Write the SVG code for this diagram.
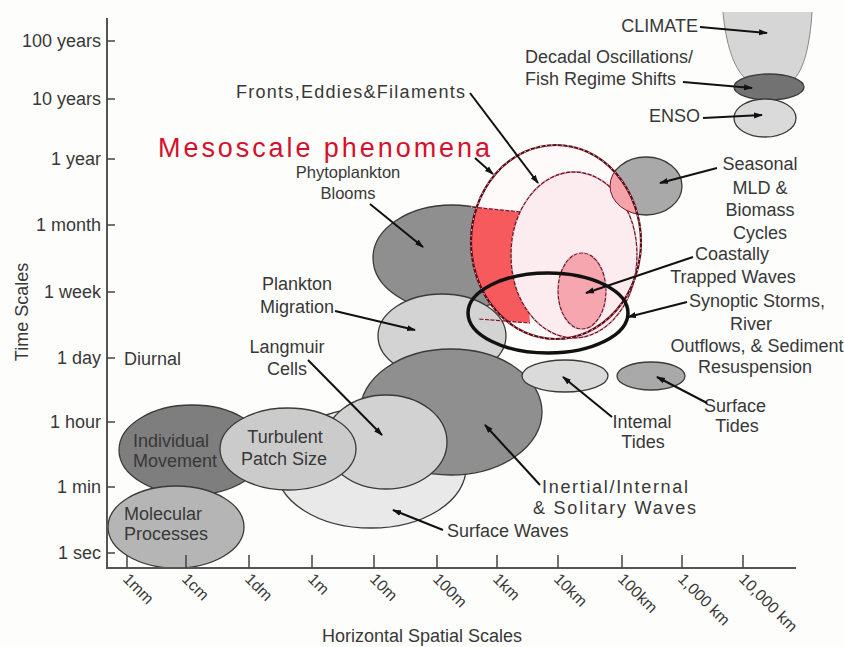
<svg xmlns="http://www.w3.org/2000/svg" width="844" height="647" viewBox="0 0 844 647">
<style>
text{font-family:"Liberation Sans",Arial,sans-serif;font-size:18px;fill:#383838}
.c{text-anchor:middle}
.r{text-anchor:end}
.el{stroke:#3a3a3a;stroke-width:1.3}
.dk{fill:#7e7e7e}
.md{fill:#8f8f8f}
.mg{fill:#a9a9a9}
.lt{fill:#cbcbcb}
.vl{fill:#dadada}
.xl{fill:#e9e9e9}
.ld{stroke:#111;stroke-width:2;fill:none;marker-end:url(#ah)}
.ax{stroke:#555;stroke-width:2;fill:none}
.tk{stroke:#444;stroke-width:1.5}
.dash{fill:none;stroke:#fff;stroke-width:1;stroke-dasharray:1.5 4}
.xt{font-size:16px}
.sm{font-size:16.5px}
</style>
<defs>
<marker id="ah" markerWidth="9" markerHeight="7" refX="8" refY="3.5" orient="auto" markerUnits="userSpaceOnUse">
<path d="M0,0.5 L9,3.5 L0,6.5 z" fill="#111"/>
</marker>
<clipPath id="outerClip"><ellipse cx="556" cy="242" rx="85" ry="97"/></clipPath>
</defs>
<rect width="844" height="647" fill="#fdfdfb"/>

<g id="climate">
<path d="M723,12 C726,45 734,68 745,78 L795,78 C804,68 810,45 812,12 Z" fill="#d6d6d6" stroke="none"/>
<path d="M723,12 C726,45 734,68 745,78 M795,78 C804,68 810,45 812,12" fill="none" stroke="#888" stroke-width="1"/>
<text x="698" y="32" class="r">CLIMATE</text>
</g>
<g id="decadal">
<ellipse class="el" cx="769" cy="87" rx="35" ry="13" fill="#727272"/>
<text x="525" y="63">Decadal Oscillations/</text>
<text x="525" y="85">Fish Regime Shifts</text>
</g>
<g id="enso">
<ellipse class="el vl" cx="765" cy="118" rx="31" ry="19"/>
<text x="700" y="122" class="r">ENSO</text>
</g>
<g id="seasonal">
<ellipse class="el mg" cx="646" cy="186" rx="36" ry="29"/>
<text x="760" y="170" class="c">Seasonal</text>
<text x="760" y="194" class="c">MLD &amp;</text>
<text x="760" y="216" class="c">Biomass</text>
<text x="760" y="239" class="c">Cycles</text>
</g>
<g id="phytoplankton">
<ellipse class="el md" cx="452" cy="258" rx="79" ry="53"/>
<text x="348" y="178" class="c sm">Phytoplankton</text>
<text x="348" y="199" class="c sm">Blooms</text>
</g>
<g id="plankton-migration">
<ellipse class="el" cx="442" cy="336" rx="64" ry="42" fill="#d3d3d3"/>
<text x="297" y="290" class="c">Plankton</text>
<text x="297" y="313" class="c">Migration</text>
</g>
<g id="individual">
<ellipse class="el dk" cx="192" cy="450" rx="73" ry="45"/>
</g>
<g id="surface-waves">
<ellipse class="el xl" cx="371" cy="468" rx="95" ry="60"/>
<text x="447" y="537">Surface Waves</text>
</g>
<g id="inertial">
<ellipse class="el md" cx="451" cy="412" rx="91" ry="63"/>
<text x="542" y="493" textLength="146">Inertial/Internal</text>
<text x="533" y="514" textLength="163">&amp; Solitary Waves</text>
</g>
<g id="langmuir">
<ellipse class="el" cx="386" cy="442" rx="61" ry="47" fill="#d2d2d2"/>
<text x="287" y="353" class="c">Langmuir</text>
<text x="287" y="375" class="c">Cells</text>
</g>
<g id="turbulent">
<ellipse class="el lt" cx="288" cy="449" rx="68" ry="41"/>
<text x="285" y="443" class="c">Turbulent</text>
<text x="284" y="465" class="c">Patch Size</text>
</g>
<g id="individual-label">
<text x="133" y="447">Individual</text>
<text x="133" y="467">Movement</text>
</g>
<g id="molecular">
<ellipse class="el" cx="176" cy="527" rx="68" ry="41" fill="#b5b5b5"/>
<text x="124" y="520">Molecular</text>
<text x="124" y="540">Processes</text>
</g>
<g id="internal-tides">
<ellipse class="el vl" cx="565" cy="376" rx="43" ry="16"/>
<text x="642" y="428" class="c">Intemal</text>
<text x="643" y="448" class="c">Tides</text>
</g>
<g id="surface-tides">
<ellipse class="el mg" cx="651" cy="376" rx="34" ry="14"/>
<text x="735" y="412" class="c">Surface</text>
<text x="737" y="432" class="c">Tides</text>
</g>

<g id="mesoscale">
<ellipse cx="556" cy="242" rx="85" ry="97" fill="#fffafa"/>
<polygon points="460,205 522,212 530,323 460,319" fill="#f65a5c" clip-path="url(#outerClip)"/>
<path d="M471,207 L522,212 M478,319 L530,323" stroke="#7a1020" stroke-width="1.2" fill="none"/>
<path class="dash" d="M471,207 L522,212 M478,319 L530,323"/>
<ellipse cx="574" cy="255" rx="63" ry="83" fill="#fdecef" stroke="#7a1020" stroke-width="1.3"/>
<ellipse class="dash" cx="574" cy="255" rx="63" ry="83"/>
<ellipse cx="646" cy="186" rx="36" ry="29" fill="#f5a3ab" stroke="#7a1020" stroke-width="1" clip-path="url(#outerClip)"/>
<ellipse cx="582" cy="291" rx="24" ry="38" fill="#f6a6ae" stroke="#7a1020" stroke-width="1.2"/>
<ellipse class="dash" cx="582" cy="291" rx="24" ry="38"/>
<ellipse cx="556" cy="242" rx="85" ry="97" fill="none" stroke="#5e0a16" stroke-width="2.2"/>
<ellipse class="dash" cx="556" cy="242" rx="85" ry="97"/>
<text x="158" y="157" textLength="332" style="font-size:27px;fill:#d4102c">Mesoscale phenomena</text>
<text x="236" y="98" textLength="229">Fronts,Eddies&amp;Filaments</text>
<text x="695" y="260">Coastally</text>
<text x="733" y="283" class="c">Trapped Waves</text>
</g>
<g id="synoptic">
<ellipse cx="548" cy="313" rx="80" ry="40" fill="none" stroke="#111" stroke-width="3.5"/>
<text x="757" y="307" class="c">Synoptic Storms,</text>
<text x="751" y="330" class="c">River</text>
<text x="757" y="352" class="c">Outflows, &amp; Sediment</text>
<text x="755" y="373" class="c">Resuspension</text>
</g>

<g id="axes">
<path class="ax" d="M107,18 V568 H796"/>
<g class="tk">
<path d="M107,41 H115 M107,99 H115 M107,159 H115 M107,225 H115 M107,292 H115 M107,358 H115 M107,422 H115 M107,487 H115 M107,553 H115"/>
<path d="M127,568 V555 M186,568 V555 M249,568 V555 M312,568 V555 M374,568 V555 M437,568 V555 M497,568 V555 M558,568 V555 M622,568 V555 M682,568 V555 M743,568 V555"/>
</g>
<text x="101" y="47" class="r">100 years</text>
<text x="101" y="105" class="r">10 years</text>
<text x="101" y="165" class="r">1 year</text>
<text x="101" y="231" class="r">1 month</text>
<text x="101" y="298" class="r">1 week</text>
<text x="101" y="364" class="r">1 day</text>
<text x="124" y="365">Diurnal</text>
<text x="101" y="428" class="r">1 hour</text>
<text x="101" y="493" class="r">1 min</text>
<text x="101" y="559" class="r">1 sec</text>
<text transform="translate(28,312) rotate(-90)" class="c">Time Scales</text>
<g class="xt">
<text class="xt" transform="translate(122,580) rotate(45)">1mm</text>
<text class="xt" transform="translate(181,580) rotate(45)">1cm</text>
<text class="xt" transform="translate(244,580) rotate(45)">1dm</text>
<text class="xt" transform="translate(307,580) rotate(45)">1m</text>
<text class="xt" transform="translate(369,580) rotate(45)">10m</text>
<text class="xt" transform="translate(432,580) rotate(45)">100m</text>
<text class="xt" transform="translate(492,580) rotate(45)">1km</text>
<text class="xt" transform="translate(553,580) rotate(45)">10km</text>
<text class="xt" transform="translate(617,580) rotate(45)">100km</text>
<text class="xt" transform="translate(677,580) rotate(45)">1,000 km</text>
<text class="xt" transform="translate(738,580) rotate(45)">10,000 km</text>
</g>
<text x="422" y="642" class="c">Horizontal Spatial Scales</text>
</g>

<g id="connectors">
<path class="ld" d="M700,27 L767,33"/>
<path class="ld" d="M683,82 L752,88"/>
<path class="ld" d="M703,118 L762,115"/>
<path class="ld" d="M470,93 L538,183"/>
<path class="ld" d="M475,158 L493,174"/>
<path class="ld" d="M717,168 L660,183"/>
<path class="ld" d="M370,204 L423,247"/>
<path class="ld" d="M335,311 L415,330"/>
<path class="ld" d="M693,257 L586,293"/>
<path class="ld" d="M687,302 L628,317"/>
<path class="ld" d="M308,360 L382,435"/>
<path class="ld" d="M612,417 L563,377"/>
<path class="ld" d="M707,403 L657,377"/>
<path class="ld" d="M540,485 L485,425"/>
<path class="ld" d="M443,530 L393,510"/>
</g>
</svg>
